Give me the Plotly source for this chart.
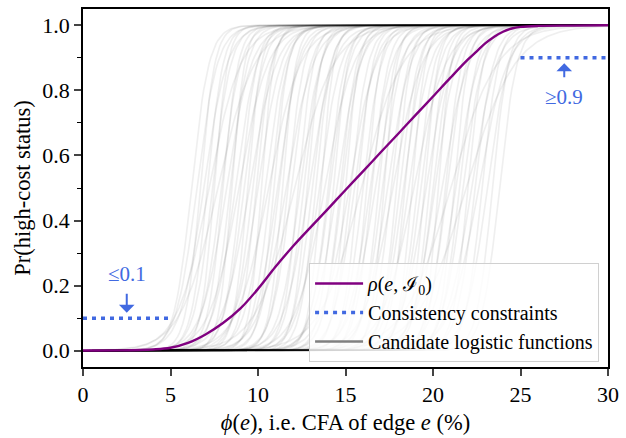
import numpy as np
import plotly.graph_objects as go

# Candidate logistic functions: midpoints (% CFA) and steepness
cand_mid = [
    6.2, 6.5, 6.7, 6.9, 7.1, 7.2, 7.4, 7.5, 7.7, 7.9,
    8.0, 8.2, 8.4, 8.5, 8.7, 8.9, 9.0, 9.2, 9.4, 9.5,
    9.7, 9.9, 10.0, 10.2, 10.4, 10.6, 10.7, 10.9, 11.1, 11.2,
    11.4, 11.6, 11.7, 11.9, 12.1, 12.3, 12.4, 12.6, 12.8, 12.9,
    13.1, 13.3, 13.5, 13.6, 13.8, 14.0, 14.1, 14.3, 14.5, 14.7,
    14.8, 15.0, 15.2, 15.3, 15.5, 15.7, 15.9, 16.0, 16.2, 16.4,
    16.5, 16.7, 16.9, 17.1, 17.2, 17.4, 17.6, 17.7, 17.9, 18.1,
    18.3, 18.4, 18.6, 18.8, 18.9, 19.1, 19.3, 19.5, 19.6, 19.8,
    20.0, 20.1, 20.3, 20.5, 20.7, 20.8, 21.0, 21.2, 21.3, 21.5,
    21.7, 21.9, 22.0, 22.2, 22.4, 22.6, 22.8, 23.1, 23.4, 23.8]
cand_slope = [
    2.0, 1.7, 2.4, 1.5, 2.2, 1.1, 1.9, 2.6, 0.95, 1.8,
    2.3, 1.4, 2.0, 2.7, 1.6, 1.2, 2.1, 1.8, 2.5, 1.3,
    1.9, 2.2, 1.5, 2.8, 1.7, 1.1, 2.0, 2.4, 1.6, 1.9,
    2.6, 1.3, 2.1, 1.8, 0.9, 2.3, 1.7, 2.0, 2.5, 1.4,
    1.9, 2.2, 1.6, 2.7, 1.2, 2.0, 1.8, 2.4, 1.5, 2.1,
    1.9, 2.6, 1.3, 2.0, 1.7, 2.3, 0.85, 1.9, 2.5, 1.6,
    2.1, 1.4, 2.2, 1.8, 2.7, 1.5, 2.0, 1.2, 2.4, 1.9,
    1.7, 2.3, 1.6, 2.6, 1.1, 2.0, 1.8, 2.5, 1.4, 2.2,
    1.9, 1.6, 2.7, 1.3, 2.1, 1.8, 0.75, 2.4, 1.5, 2.0,
    1.7, 0.72, 2.3, 1.4, 1.9, 1.2, 2.1, 1.6, 2.2, 2.0]

# rho(e, I0): averaged curve
rho_x = [0, 2, 4, 5, 6, 7, 8, 9, 10, 11, 12, 13, 14, 15, 16, 17, 18, 19, 20,
         21, 22, 22.5, 23, 23.5, 24, 24.5, 25, 26, 28, 30]
rho_y = [0.0005, 0.001, 0.004, 0.009, 0.024, 0.05, 0.085, 0.13, 0.19, 0.258,
         0.321, 0.379, 0.436, 0.494, 0.551, 0.609, 0.666, 0.724, 0.781, 0.839,
         0.895, 0.92, 0.945, 0.965, 0.98, 0.99, 0.995, 0.998, 0.999, 1.0]

# Consistency constraints
low_x = [0, 5]
low_y = [0.1, 0.1]
high_x = [25, 30]
high_y = [0.9, 0.9]

BLUE = "#4169E1"
FONT = "Liberation Serif, Times New Roman, serif"

xs = np.linspace(0, 30, 301)
fig = go.Figure()
for m, k in zip(cand_mid, cand_slope):
    fig.add_trace(go.Scatter(
        x=xs, y=1.0 / (1.0 + np.exp(-k * (xs - m))), mode="lines",
        line=dict(color="black", width=1.6), opacity=0.06,
        showlegend=False, hoverinfo="skip"))

fig.add_trace(go.Scatter(x=rho_x, y=rho_y, mode="lines",
                         line=dict(color="#800080", width=2.4, shape="spline", smoothing=1.0),
                         name="<i>ρ</i>(<i>e</i>, ℐ<sub>0</sub>)", legendrank=1))
fig.add_trace(go.Scatter(x=low_x, y=low_y, mode="lines",
                         line=dict(color=BLUE, width=3.5, dash="4px,5px"),
                         name="Consistency constraints", legendrank=2))
fig.add_trace(go.Scatter(x=high_x, y=high_y, mode="lines",
                         line=dict(color=BLUE, width=3.5, dash="4px,5px"),
                         showlegend=False))
fig.add_trace(go.Scatter(x=[None], y=[None], mode="lines",
                         line=dict(color="gray", width=2.4),
                         name="Candidate logistic functions", legendrank=3))

# annotations: label with arrow pointing at the constraint
fig.add_annotation(x=2.5, y=0.117, ax=2.5, ay=0.235, axref="x", ayref="y",
                   text="≤0.1", showarrow=True, arrowhead=1, arrowsize=1.3,
                   arrowwidth=2, arrowcolor=BLUE, startstandoff=6,
                   font=dict(color=BLUE, size=21, family=FONT))
fig.add_annotation(x=27.5, y=0.883, ax=27.5, ay=0.78, axref="x", ayref="y",
                   text="≥0.9", showarrow=True, arrowhead=1, arrowsize=1.3,
                   arrowwidth=2, arrowcolor=BLUE, startstandoff=6,
                   font=dict(color=BLUE, size=21, family=FONT))

fig.update_layout(
    width=626, height=438,
    margin=dict(l=83, r=14, t=7, b=70),
    plot_bgcolor="white", paper_bgcolor="white",
    font=dict(family=FONT, size=22, color="black"),
    showlegend=True,
    legend=dict(x=0.983, y=0.014, xanchor="right", yanchor="bottom",
                bgcolor="rgba(255,255,255,0.8)", bordercolor="#d0d0d0",
                borderwidth=1, font=dict(size=20, family=FONT),
                itemwidth=48, traceorder="normal", tracegroupgap=0),
)
fig.update_xaxes(range=[0, 30], dtick=5, tick0=0, showline=True, mirror=True,
                 linecolor="black", linewidth=1.5, ticks="outside", ticklen=7,
                 tickwidth=1.5, showgrid=False, zeroline=False,
                 title=dict(text="<i>ϕ</i>(<i>e</i>), i.e. CFA of edge <i>e</i> (%)",
                            font=dict(size=22.5), standoff=8))
fig.update_yaxes(range=[-0.05, 1.05], dtick=0.2, tick0=0, tickformat=".1f",
                 showline=True, mirror=True, linecolor="black", linewidth=1.5,
                 ticks="outside", ticklen=7, tickwidth=1.5, showgrid=False,
                 zeroline=False,
                 minor=dict(dtick=0.1, ticks="outside", ticklen=4, tickwidth=1.2,
                            tickcolor="black", showgrid=False),
                 title=dict(text="Pr(high-cost status)", font=dict(size=22.5), standoff=5))

fig.write_html("out.html")
